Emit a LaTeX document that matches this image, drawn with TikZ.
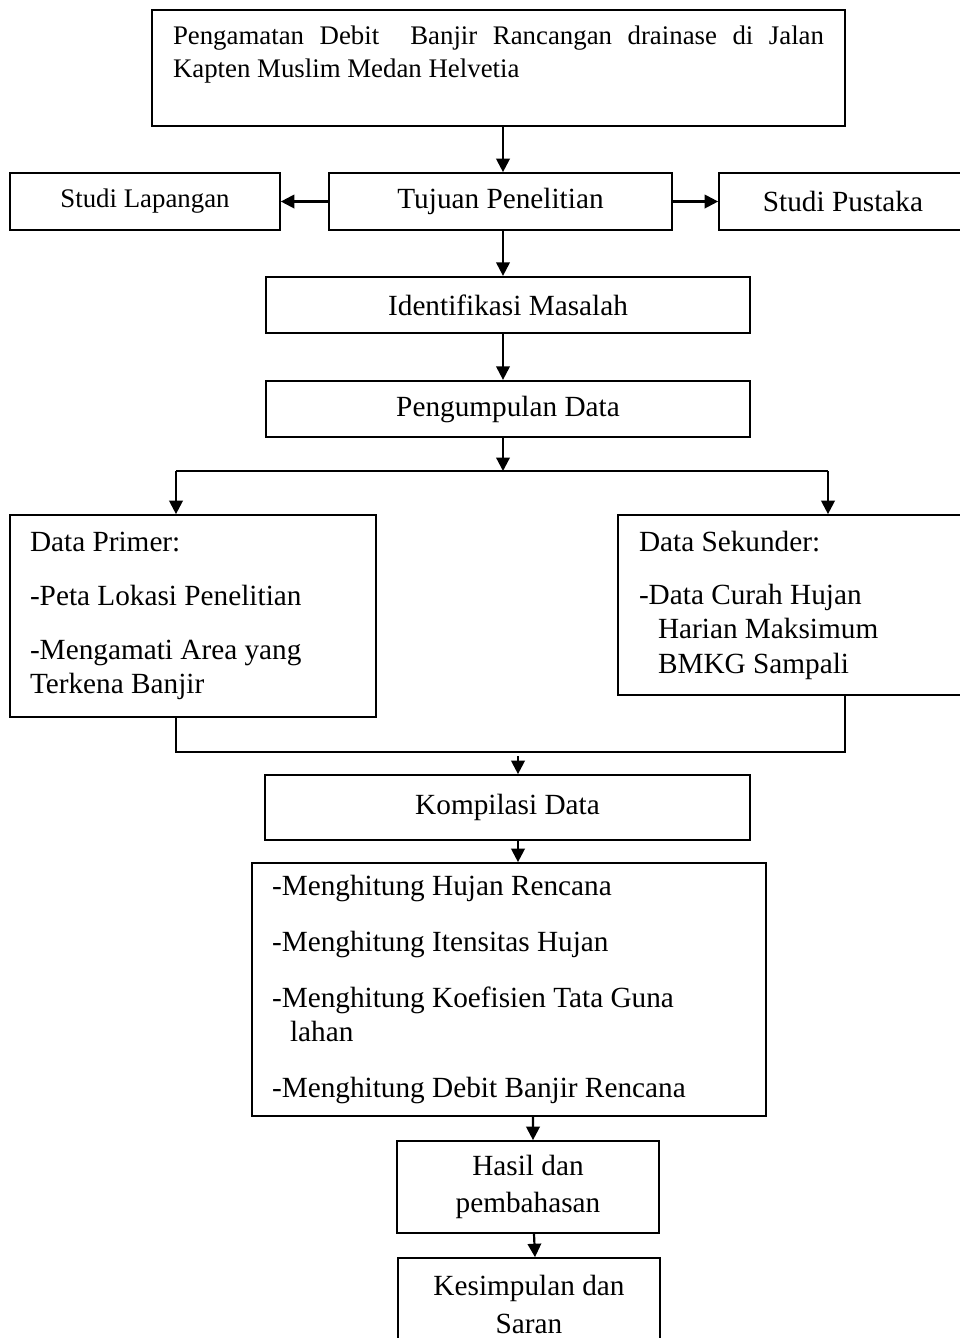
\documentclass[tikz,border=0pt]{standalone}
\usepackage{fontspec}
\setmainfont{Liberation Serif}
\usetikzlibrary{arrows.meta}

\begin{document}
\begin{tikzpicture}[x=0.41pt, y=-0.41pt, >={Triangle[length=5.5pt, width=5.5pt]},
  box/.style={rectangle, draw, line width=0.7pt, fill=white, minimum width=#1, minimum height=23.2pt, align=flush center, font=\fontsize{12}{14}\selectfont},
  box/.default=198.44pt,
  small/.style={font=\fontsize{11}{13.6}\selectfont},
  conn/.style={->, line width=0.9pt},
  link/.style={line width=0.7pt}]
  \useasboundingbox (0,0) rectangle (960,1338);
  \node[box=284.13pt, small, minimum height=47.56pt, text width=266.91pt, inner xsep=8.61pt, align=justify] (title) at (498.5,68) {Pengamatan Debit\ \ Banjir Rancangan drainase di Jalan\linebreak Kapten Muslim Medan Helvetia\par\mbox{}};
  \node[box=140.63pt, minimum height=23.37pt] (tujuan) at (500.5,201.5) {Tujuan Penelitian};
  \node[box=110.7pt, small, minimum height=23.37pt] (lapangan) at (145,201.5) {Studi Lapangan};
  \node[box=101.68pt, minimum height=23.37pt] (pustaka) at (843,201.5) {Studi Pustaka};
  \node[box] (identifikasi) at (508,305) {Identifikasi Masalah};
  \node[box] (pengumpulan) at (508,409) {Pengumpulan Data};
  \node[box=150.06pt, minimum height=82.82pt, text width=133.66pt, inner xsep=8.2pt, align=flush left] (primer) at (193,616)
    {Data Primer:\\[8pt] -Peta Lokasi Penelitian\\[8pt] -Mengamati Area yang\\ Terkena Banjir};
  \node[box=148.42pt, minimum height=73.8pt, text width=131.2pt, inner xsep=8.61pt, align=flush left] (sekunder) at (799,605)
    {Data Sekunder:\\[8pt] -Data Curah Hujan\\ \hspace*{7.8pt}Harian Maksimum\\ \hspace*{7.8pt}BMKG Sampali};
  \node[box=198.85pt, minimum height=26.65pt] (kompilasi) at (507.5,807.5) {Kompilasi Data};
  \node[box=210.74pt, minimum height=103.73pt, text width=194.34pt, inner xsep=8.2pt, align=flush left] (metode) at (509,989.5)
    {-Menghitung Hujan Rencana\\[9pt] -Menghitung Itensitas Hujan\\[9pt] -Menghitung Koefisien Tata Guna\\ \hspace*{7.4pt}lahan\\[9pt] -Menghitung Debit Banjir Rencana};
  \node[box=107.42pt, minimum height=37.72pt] (hasil) at (528,1187) {Hasil dan\\[1.2pt] pembahasan};
  \node[box=107.42pt, minimum height=38.13pt] (kesimpulan) at (529,1304.5) {Kesimpulan dan\\[1.2pt] Saran};
  % spine and branch points
  \coordinate (spine) at (503,0);
  \coordinate (split) at (503,471);
  \coordinate (pl) at (176,471);
  \coordinate (sl) at (828,471);
  \coordinate (ml) at (176,752);
  \coordinate (mr) at (845,752);
  \coordinate (merge) at (518,756);
  \draw[conn] (title.south -| spine) -- (tujuan.north -| spine);
  \draw[conn] (tujuan) -- (lapangan);
  \draw[conn] (tujuan) -- (pustaka);
  \draw[conn] (tujuan.south -| spine) -- (identifikasi.north -| spine);
  \draw[conn] (identifikasi.south -| spine) -- (pengumpulan.north -| spine);
  \draw[conn] (pengumpulan.south -| spine) -- (split);
  \draw[link, line width=0.9pt] (pl) -- (sl);
  \draw[conn] (pl) -- (pl |- primer.north);
  \draw[conn] (sl) -- (sl |- sekunder.north);
  \draw[link] (primer.south -| ml) -- (ml) -- (mr) -- (sekunder.south -| mr);
  \draw[conn] (merge) -- (kompilasi.north -| merge);
  \draw[conn] (kompilasi.south -| merge) -- (metode.north -| merge);
  \draw[conn] (metode.south -| hasil) ++(5,0) -- ([xshift=2.05pt]hasil.north);
  \draw[conn] (hasil.south) ++(6,0) -- ([xshift=2.46pt]kesimpulan.north);
\end{tikzpicture}
\end{document}
